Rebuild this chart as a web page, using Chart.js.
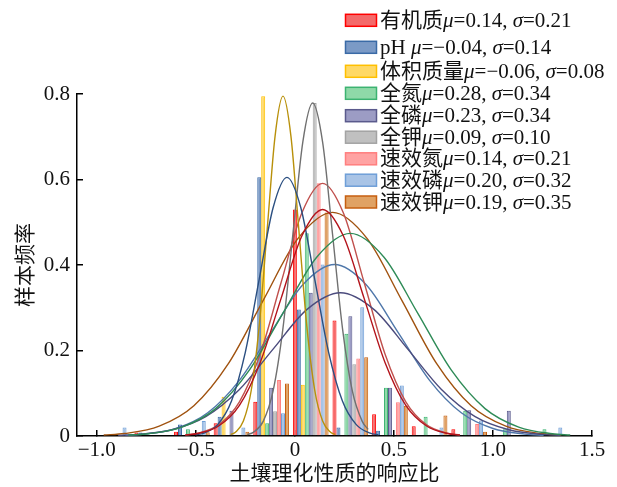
<!DOCTYPE html>
<html>
<head>
<meta charset="utf-8">
<script src="https://cdn.jsdelivr.net/npm/chart.js@4/dist/chart.umd.min.js"></script>
<style>
html,body{margin:0;padding:0;background:#fff;}
#wrap{width:617px;height:487px;}
</style>
</head>
<body>
<div id="wrap"><canvas id="c" width="617" height="487"></canvas></div>
<script>
// ---- data ----
const seriesNames = ['有机质', 'pH ', '体积质量', '全氮', '全磷', '全钾', '速效氮', '速效磷', '速效钾'];
const muValues = [0.14, -0.04, -0.06, 0.28, 0.23, 0.09, 0.14, 0.20, 0.19];
const sigmaValues = [0.21, 0.14, 0.08, 0.34, 0.34, 0.10, 0.21, 0.32, 0.35];
const binStarts = [-1.0, -0.8, -0.6, -0.4, -0.2, 0.0, 0.2, 0.4, 0.6, 0.8, 1.0, 1.2];
const xTickValues = [-1.0, -0.5, 0, 0.5, 1.0, 1.5];
const yTickValues = [0, 0.2, 0.4, 0.6, 0.8];

const freqOrganic = [0, 0.008, 0.010, 0.030, 0.080, 0.530, 0.270, 0.051, 0.023, 0.016, 0, 0];
const freqPH      = [0, 0.008, 0.027, 0.045, 0.605, 0.296, 0.020, 0.012, 0, 0, 0, 0];
const freqBulk    = [0, 0, 0, 0.092, 0.795, 0.120, 0, 0, 0, 0, 0, 0];
const freqTN      = [0, 0, 0.016, 0, 0.030, 0.474, 0.239, 0.113, 0.045, 0.059, 0.016, 0.016];
const freqTP      = [0, 0, 0, 0.059, 0.113, 0.335, 0.280, 0.113, 0, 0.060, 0.059, 0];
const freqTK      = [0, 0, 0, 0, 0.058, 0.779, 0.168, 0, 0, 0, 0, 0];
const freqAN      = [0, 0, 0, 0, 0.131, 0.591, 0.181, 0.079, 0, 0.028, 0, 0];
const freqAP      = [0.020, 0, 0.035, 0.020, 0.053, 0.401, 0.301, 0.118, 0.020, 0.036, 0, 0.020];
const freqAK      = [0, 0, 0.009, 0.010, 0.123, 0.523, 0.184, 0.071, 0.048, 0.010, 0, 0];

// fitted curves, points
const curveOrganicX = [-0.553, -0.49, -0.385, -0.28, -0.175, -0.07, 0.035, 0.14, 0.245, 0.35, 0.455, 0.56, 0.665, 0.77, 0.833];
const curveOrganicY = [0.0023, 0.0059, 0.0233, 0.0717, 0.1721, 0.3214, 0.4677, 0.530, 0.4677, 0.3214, 0.1721, 0.0717, 0.0233, 0.0059, 0.0023];
const curvePHX = [-0.502, -0.46, -0.39, -0.32, -0.25, -0.18, -0.11, -0.04, 0.03, 0.10, 0.17, 0.24, 0.31, 0.38, 0.422];
const curvePHY = [0.0026, 0.0067, 0.0266, 0.0819, 0.1964, 0.3669, 0.5339, 0.605, 0.5339, 0.3669, 0.1964, 0.0819, 0.0266, 0.0067, 0.0026];
const curveBulkX = [-0.324, -0.30, -0.26, -0.22, -0.18, -0.14, -0.10, -0.06, -0.02, 0.02, 0.06, 0.10, 0.14, 0.18, 0.204];
const curveBulkY = [0.0034, 0.0088, 0.0349, 0.1076, 0.2581, 0.4822, 0.7016, 0.795, 0.7016, 0.4822, 0.2581, 0.1076, 0.0349, 0.0088, 0.0034];
const curveTNX = [-0.842, -0.74, -0.57, -0.40, -0.23, -0.06, 0.11, 0.28, 0.45, 0.62, 0.79, 0.96, 1.13, 1.30, 1.39];
const curveTNY = [0.0020, 0.0053, 0.0208, 0.0641, 0.1539, 0.2875, 0.4183, 0.474, 0.4183, 0.2875, 0.1539, 0.0641, 0.0208, 0.0053, 0.0022];
const curveTPX = [-0.892, -0.79, -0.62, -0.45, -0.28, -0.11, 0.06, 0.23, 0.40, 0.57, 0.74, 0.91, 1.08, 1.25, 1.34];
const curveTPY = [0.0014, 0.0037, 0.0147, 0.0453, 0.1088, 0.2032, 0.2956, 0.335, 0.2956, 0.2032, 0.1088, 0.0453, 0.0147, 0.0037, 0.0015];
const curveTKX = [-0.24, -0.21, -0.16, -0.11, -0.06, -0.01, 0.04, 0.09, 0.14, 0.19, 0.24, 0.29, 0.34, 0.37];
const curveTKY = [0.0033, 0.0086, 0.0342, 0.1054, 0.2529, 0.4725, 0.6875, 0.779, 0.6875, 0.4725, 0.2529, 0.1054, 0.0342, 0.0154];
const curveANX = [-0.553, -0.49, -0.385, -0.28, -0.175, -0.07, 0.035, 0.14, 0.245, 0.35, 0.455, 0.56, 0.665, 0.77, 0.833];
const curveANY = [0.0025, 0.0066, 0.0259, 0.0800, 0.1919, 0.3584, 0.5216, 0.591, 0.5216, 0.3584, 0.1919, 0.0800, 0.0259, 0.0066, 0.0025];
const curveAPX = [-0.856, -0.76, -0.60, -0.44, -0.28, -0.12, 0.04, 0.20, 0.36, 0.52, 0.68, 0.84, 1.00, 1.16, 1.256];
const curveAPY = [0.0017, 0.0045, 0.0176, 0.0543, 0.1302, 0.2432, 0.3539, 0.401, 0.3539, 0.2432, 0.1302, 0.0543, 0.0176, 0.0045, 0.0017];
const curveAKX = [-0.965, -0.86, -0.685, -0.51, -0.335, -0.16, 0.015, 0.19, 0.365, 0.54, 0.715, 0.89, 1.065, 1.24, 1.345];
const curveAKY = [0.0022, 0.0058, 0.0230, 0.0708, 0.1698, 0.3172, 0.4616, 0.523, 0.4616, 0.3172, 0.1698, 0.0708, 0.0230, 0.0058, 0.0022];

// ---- styles ----
const barFill   = ['#f46a6a', '#7b9ac6', '#ffd966', '#8fd9a8', '#9c9cc4', '#c0c0c0', '#ffa3a3', '#a9c4e6', '#e0a264'];
const barBorder = ['#ff0000', '#3a6aa6', '#ffc000', '#3cb371', '#5a5a8c', '#a3a3a3', '#ff7f7f', '#6f9fd8', '#c65f10'];
const lineColor = ['#b3131b', '#2b4f81', '#b8900a', '#2e8b57', '#4b4b7d', '#707070', '#c0504d', '#4f77aa', '#a0520f'];
const legendRowY = [20.3, 47.3, 71.3, 93.3, 115.7, 137.2, 158.8, 180.2, 202];

const serifFont = "'Liberation Serif', 'Noto Sans CJK SC', serif";
const fs = 21;

const freqs = [freqOrganic, freqPH, freqBulk, freqTN, freqTP, freqTK, freqAN, freqAP, freqAK];
const curvesX = [curveOrganicX, curvePHX, curveBulkX, curveTNX, curveTPX, curveTKX, curveANX, curveAPX, curveAKX];
const curvesY = [curveOrganicY, curvePHY, curveBulkY, curveTNY, curveTPY, curveTKY, curveANY, curveAPY, curveAKY];

const binWidth = 0.2;
const catPct = 0.9;
const nSeries = seriesNames.length;
// shift so that the first bar of every group sits on its bin value
const groupShift = binWidth * catPct * (1 - 1 / nSeries) / 2;

const barSets = freqs.map((vals, i) => ({
  type: 'bar',
  label: seriesNames[i],
  data: binStarts.map((b, j) => ({x: b + groupShift, y: vals[j] === 0 ? null : vals[j]})),
  backgroundColor: barFill[i],
  borderColor: barBorder[i],
  borderWidth: 1,
  categoryPercentage: catPct,
  barPercentage: 1,
  grouped: true,
  order: 2
}));

const lineSets = curvesX.map((xs, i) => ({
  type: 'line',
  label: seriesNames[i] + ' fit',
  data: xs.map((x, j) => ({x: x, y: curvesY[i][j]})),
  borderColor: lineColor[i],
  borderWidth: 1.4,
  pointRadius: 0,
  fill: false,
  cubicInterpolationMode: 'monotone',
  order: 1
}));

function fmtNum(v) {
  return v.toFixed(2).replace('-', '\u2212');
}

const legendPlugin = {
  id: 'sideLegend',
  afterDraw(chart) {
    const ctx = chart.ctx;
    ctx.save();
    const normal = fs + 'px ' + serifFont;
    const italic = 'italic ' + fs + 'px ' + serifFont;
    seriesNames.forEach((name, i) => {
      const yc = legendRowY[i];
      ctx.fillStyle = barFill[i];
      ctx.strokeStyle = barBorder[i];
      ctx.lineWidth = 1.5;
      ctx.fillRect(345.5, yc - 6, 31, 12);
      ctx.strokeRect(345.5, yc - 6, 31, 12);
      const parts = [
        [name, normal],
        ['\u03bc', italic],
        ['=' + fmtNum(muValues[i]) + ', ', normal],
        ['\u03c3', italic],
        ['=' + fmtNum(sigmaValues[i]), normal]
      ];
      let x = 380;
      ctx.textBaseline = 'middle';
      ctx.textAlign = 'left';
      ctx.fillStyle = '#111';
      for (const [t, f] of parts) {
        ctx.font = f;
        ctx.fillText(t, x, yc + 1);
        x += ctx.measureText(t).width;
      }
    });
    ctx.restore();
  }
};

function keepTicks(list) {
  return function(scale) {
    scale.ticks = list.map(v => ({value: v}));
  };
}

new Chart(document.getElementById('c'), {
  type: 'bar',
  data: {datasets: barSets.concat(lineSets)},
  plugins: [legendPlugin],
  options: {
    responsive: false,
    animation: false,
    devicePixelRatio: 1,
    layout: {padding: {left: 0, right: 25, top: 94, bottom: 0}},
    plugins: {legend: {display: false}, tooltip: {enabled: false}},
    scales: {
      x: {
        type: 'linear',
        min: -1.1,
        max: 1.5,
        offset: false,
        afterBuildTicks: keepTicks(xTickValues),
        afterFit: s => { s.height = 51; },
        grid: {offset: false, drawOnChartArea: false, drawTicks: true, tickLength: -6, color: '#000', lineWidth: 1.5},
        border: {display: true, color: '#000', width: 1.5},
        ticks: {
          color: '#111',
          font: {family: serifFont, size: fs},
          padding: 8,
          maxRotation: 0,
          autoSkip: false,
          callback: v => v === 0 ? '0' : v.toFixed(1).replace('-', '\u2212')
        },
        title: {display: true, text: '土壤理化性质的响应比', color: '#111', font: {family: serifFont, size: fs}, padding: {top: 0, bottom: 0}}
      },
      y: {
        type: 'linear',
        min: 0,
        max: 0.8,
        afterBuildTicks: keepTicks(yTickValues),
        afterFit: s => { s.width = 77; },
        grid: {drawOnChartArea: false, drawTicks: true, tickLength: -6, color: '#000', lineWidth: 1.5},
        border: {display: true, color: '#000', width: 1.5},
        ticks: {
          color: '#111',
          font: {family: serifFont, size: fs},
          padding: 13,
          autoSkip: false,
          callback: v => v === 0 ? '0' : v.toFixed(1)
        },
        title: {display: true, text: '样本频率', color: '#111', font: {family: serifFont, size: fs}, padding: {top: 14, bottom: 0}}
      }
    }
  }
});
</script>
</body>
</html>
